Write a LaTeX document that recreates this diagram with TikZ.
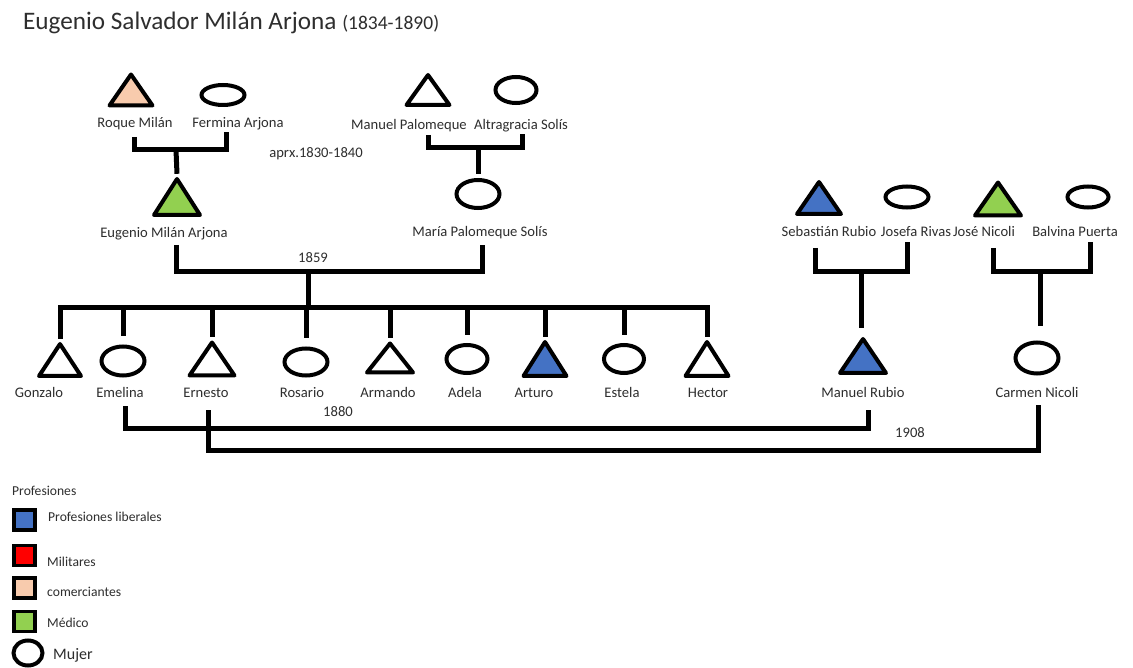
\documentclass[tikz,border=0pt]{standalone}
\usepackage{fontspec}
\setmainfont{Carlito}
\usetikzlibrary{shapes.geometric,calc}
\definecolor{liberal}{HTML}{4472C4}
\definecolor{medico}{HTML}{92D050}
\definecolor{comercio}{HTML}{F8CBAD}
\definecolor{militar}{HTML}{FF0000}
\definecolor{ink}{HTML}{2E2E2E}
\begin{document}
\begin{tikzpicture}[x=1pt,y=-1pt,
  % man: triangle of outer width #1, outer height #2, fill #3
  male/.style n args={3}{rectangle, inner sep=0pt,
    minimum width=#1pt+6pt, minimum height=#2pt+6pt,
    path picture={\filldraw[line width=4pt, line join=round, fill=#3]
      ($(path picture bounding box.south west)+(5pt,5pt)$) --
      ($(path picture bounding box.south east)+(-5pt,5pt)$) --
      ($(path picture bounding box.north)+(0pt,-5pt)$) -- cycle;}},
  % woman: ellipse of outer width #1, outer height #2
  female/.style 2 args={ellipse, draw, line width=4pt, inner sep=0pt,
    minimum width=#1pt-4pt, minimum height=#2pt-4pt},
  % names sit on a common baseline
  lab/.style={font=\fontsize{14.6}{16}\selectfont, text=ink, inner sep=0pt, anchor=base},
  rel/.style={line width=5pt, line join=miter, line cap=butt},
  key/.style={draw, line width=3.5pt, fill=#1, minimum width=21pt,
    minimum height=20pt, inner sep=0pt},
  keylab/.style={font=\fontsize{13.6}{15}\selectfont, text=ink, anchor=west, inner sep=0pt}]

\fill[white] (0,0) rectangle (1133,668);
\useasboundingbox (0,0) rectangle (1133,668);

% title
\node[anchor=base west, inner sep=0pt, text=ink, font=\fontsize{25.2}{29}\selectfont]
  (title) at (23,30) {Eugenio Salvador Milán Arjona {\fontsize{19.5}{22}\selectfont (1834-1890)}};

% grandparents
\node[male={47}{35}{comercio}] (roque) at (131,90) {};
\node[female={47}{24}] (fermina) at (223,95) {};
\node[male={47}{34}{white}] (manuelp) at (428,90) {};
\node[female={45}{30}] (altragracia) at (516,90) {};
\node[lab] (roqueL) at (135,128) {Roque Milán};
\node[lab] (ferminaL) at (238,128) {Fermina Arjona};
\node[lab] (manuelpL) at (409,130) {Manuel Palomeque};
\node[lab] (altragraciaL) at (521,130) {Altragracia Solís};
\node[lab] (aprx) at (316,158) {aprx.1830-1840};

% parents
\node[male={50}{40}{medico}] (eugenio) at (177,197) {};
\node[female={47}{32}] (maria) at (478,194) {};
\node[lab] (eugenioL) at (164,238) {Eugenio Milán Arjona};
\node[lab] (mariaL) at (480,237) {María Palomeque Solís};

% the Rubio and Nicoli parents
\node[male={48}{36}{liberal}] (sebastian) at (819,198) {};
\node[female={47}{25}] (josefa) at (907,197) {};
\node[male={50}{37}{medico}] (jose) at (998,199) {};
\node[female={45}{25}] (balvina) at (1088,197) {};
\node[lab] (sebastianL) at (829,237) {Sebastián Rubio};
\node[lab] (josefaL) at (916,237) {Josefa Rivas};
\node[lab] (joseL) at (984,237) {José Nicoli};
\node[lab] (balvinaL) at (1075,237) {Balvina Puerta};

% children
\node[male={46}{36}{white}] (gonzalo) at (60,360) {};
\node[female={47}{33}] (emelina) at (123,361) {};
\node[male={49}{37}{white}] (ernesto) at (212,359) {};
\node[female={47}{31}] (rosario) at (306,362) {};
\node[male={50}{33}{white}] (armando) at (390,358) {};
\node[female={45}{32}] (adela) at (467,359) {};
\node[male={47}{38}{liberal}] (arturo) at (545,359) {};
\node[female={44}{32}] (estela) at (624,359) {};
\node[male={47}{38}{white}] (hector) at (707,359) {};
\node[male={50}{38}{liberal}] (manuelr) at (863,356) {};
\node[female={47}{35}] (carmen) at (1037,358) {};
\foreach \n/\t/\x in {gonzalo/Gonzalo/39, emelina/Emelina/120, ernesto/Ernesto/206,
    rosario/Rosario/302, armando/Armando/388, adela/Adela/465, arturo/Arturo/534,
    estela/Estela/622, hector/Hector/708, manuelr/Manuel Rubio/863,
    carmen/Carmen Nicoli/1037}
  \node[lab] (\n L) at (\x,398) {\t};

\node[lab] (y1859) at (313,263) {1859};
\node[lab] (y1880) at (338,417) {1880};
\node[lab] (y1908) at (910,437) {1908};

% Milán--Arjona couple
\coordinate (rf-l) at (134,137);
\coordinate (rf-r) at (226,132);
\coordinate (rf-m) at (176,150);
\draw[rel] (rf-l) |- (rf-m) -| (rf-r);
\draw[rel] (rf-m) -- (eugenio.north);

% Palomeque--Solís couple
\coordinate (pa-l) at (428,135);
\coordinate (pa-r) at (522,134);
\coordinate (pa-m) at (478,148);
\draw[rel] (pa-l) |- (pa-m) -| (pa-r);
\draw[rel] (pa-m) -- ([yshift=4pt]maria.north);

% 1859 marriage and its children
\coordinate (em-l) at (176,245);
\coordinate (em-r) at (482,245);
\coordinate (em-m) at (308,272);
\coordinate (kids) at (308,308);
\draw[rel] (em-l) |- (em-m) -| (em-r);
\draw[rel] (em-m) -- (kids);
\draw[rel] (gonzalo.north) |- (kids) -| (hector.north);
\foreach \c in {ernesto, armando, arturo}
  \draw[rel] (kids -| \c) -- (\c.north);
\foreach \c in {emelina, rosario, adela, estela}
  \draw[rel] (kids -| \c) -- ([yshift=8pt]\c.north);

% Rubio--Rivas couple
\coordinate (rr-l) at (815,248);
\coordinate (rr-r) at (907,242);
\coordinate (rr-m) at (861,272);
\draw[rel] (rr-l) |- (rr-m) -| (rr-r);
\draw[rel] (rr-m) -- ([yshift=6pt]rr-m |- manuelr.north);

% Nicoli--Puerta couple
\coordinate (np-l) at (993,248);
\coordinate (np-r) at (1090,242);
\coordinate (np-m) at (1040,272);
\draw[rel] (np-l) |- (np-m) -| (np-r);
\draw[rel] (np-m) -- ([yshift=14pt]np-m |- carmen.north);

% 1880: Emelina and Manuel Rubio
\coordinate (emelina-d) at (125,406);
\coordinate (rubio-d) at (868,410);
\coordinate (m1880) at (500,428);
\draw[rel] (emelina-d) |- (m1880) -| (rubio-d);

% 1908: Ernesto and Carmen Nicoli
\coordinate (ernesto-d) at (208,410);
\coordinate (carmen-d) at (1038,405);
\coordinate (m1908) at (600,450);
\draw[rel] (ernesto-d) |- (m1908) -| (carmen-d);

% legend
\node[keylab] (profL) at (12,491) {Profesiones};
\node[key=liberal] (k1) at (24.5,520) {};
\node[key=militar] (k2) at (24.5,555.5) {};
\node[key=comercio] (k3) at (24.5,588) {};
\node[key=medico] (k4) at (24.5,621.5) {};
\node[female={33}{29}] (k5) at (28,653) {};
\node[keylab] (k1L) at (48,517) {Profesiones liberales};
\node[keylab] (k2L) at (47,562) {Militares};
\node[keylab] (k3L) at (47,592) {comerciantes};
\node[keylab] (k4L) at (47,623) {Médico};
\node[keylab, font=\fontsize{16}{18}\selectfont] (k5L) at (53,655) {Mujer};

\end{tikzpicture}
\end{document}
